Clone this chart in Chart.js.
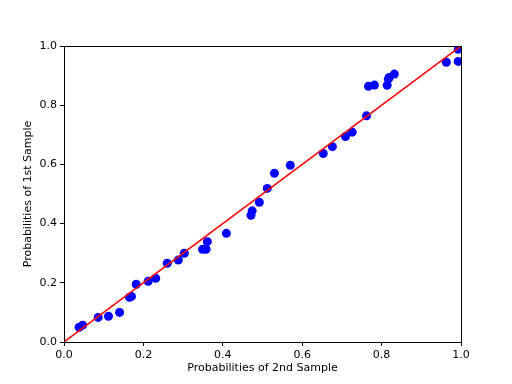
<!DOCTYPE html>
<html>
<head>
    <title>Probability Plot</title>
    <script src="https://cdn.jsdelivr.net/npm/chart.js"></script>
    <style>
        body { margin: 0; background: #fff; }
    </style>
</head>
<body>
    <canvas id="ppChart" width="512" height="384"></canvas>
    <script>
        // probabilities
        var secondSample = [0.038, 0.047, 0.086, 0.112, 0.140, 0.165, 0.170, 0.182, 0.212, 0.231,
            0.260, 0.288, 0.303, 0.349, 0.358, 0.361, 0.409, 0.471, 0.474, 0.492,
            0.512, 0.530, 0.570, 0.653, 0.676, 0.709, 0.726, 0.762, 0.767, 0.782,
            0.814, 0.817, 0.819, 0.832, 0.963, 0.993, 0.993];
        var firstSample = [0.050, 0.057, 0.083, 0.087, 0.100, 0.151, 0.154, 0.195, 0.205, 0.215,
            0.266, 0.277, 0.300, 0.313, 0.313, 0.339, 0.367, 0.428, 0.443, 0.472,
            0.519, 0.570, 0.597, 0.637, 0.660, 0.694, 0.709, 0.764, 0.864, 0.868,
            0.867, 0.888, 0.894, 0.905, 0.945, 0.948, 0.989];
        var diagonal = [0, 1];
        var tickValues = [0, 0.2, 0.4, 0.6, 0.8, 1.0];

        var points = secondSample.map(function(x, i) {
            return { x: x, y: firstSample[i] };
        });
        var refLine = diagonal.map(function(v) { return { x: v, y: v }; });

        // box around the axes, like matplotlib
        var frame = {
            id: 'frame',
            afterDatasetsDraw: function(chart) {
                var a = chart.chartArea, ctx = chart.ctx;
                ctx.save();
                ctx.strokeStyle = '#000';
                ctx.lineWidth = 1;
                ctx.strokeRect(a.left + 0.5, a.top + 0.5, a.right - a.left, a.bottom - a.top);
                ctx.restore();
            }
        };

        function axis(title, isX) {
            return {
                type: 'linear',
                min: 0,
                max: 1,
                afterBuildTicks: function(scale) {
                    scale.ticks = tickValues.map(function(v) { return { value: v }; });
                },
                afterFit: function(scale) {
                    if (isX) scale.height = 42; else scale.width = 64;
                },
                grid: { drawOnChartArea: false, drawTicks: true, tickLength: 4, color: '#000' },
                border: { display: true, color: '#000' },
                ticks: {
                    color: '#000',
                    padding: 3,
                    maxRotation: 0,
                    font: { family: 'DejaVu Sans', size: 11 },
                    callback: function(v) { return v.toFixed(1); }
                },
                title: {
                    display: true,
                    text: title,
                    color: '#000',
                    padding: isX ? { top: 1, bottom: 9 } : { top: 22, bottom: 4 },
                    font: { family: 'DejaVu Sans', size: 11 }
                }
            };
        }

        var ctx = document.getElementById('ppChart').getContext('2d');
        new Chart(ctx, {
            type: 'scatter',
            data: {
                datasets: [{
                    type: 'line',
                    data: refLine,
                    borderColor: '#ff0000',
                    borderWidth: 1.5,
                    pointRadius: 0,
                    fill: false,
                    order: 0
                }, {
                    data: points,
                    backgroundColor: '#0000ff',
                    borderColor: '#0000ff',
                    borderWidth: 0,
                    pointRadius: 4.5,
                    order: 1
                }]
            },
            options: {
                responsive: false,
                animation: false,
                layout: { padding: { left: 0, top: 46, right: 51, bottom: 0 } },
                plugins: { legend: { display: false }, tooltip: { enabled: false } },
                scales: {
                    x: axis('Probabilities of 2nd Sample', true),
                    y: axis('Probabilities of 1st Sample', false)
                }
            },
            plugins: [frame]
        });
    </script>
</body>
</html>
